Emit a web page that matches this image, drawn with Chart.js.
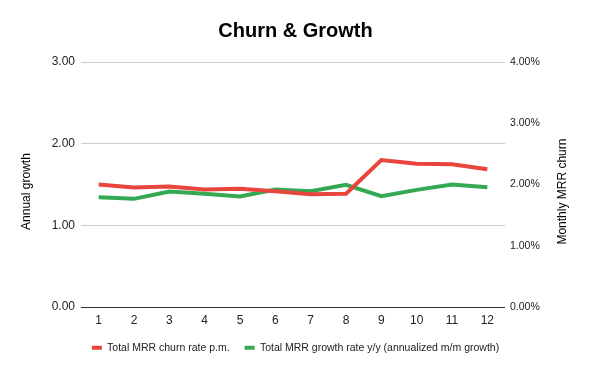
<!DOCTYPE html>
<html>
<head>
<meta charset="utf-8">
<script src="https://cdn.jsdelivr.net/npm/chart.js@4"></script>
<style>
html,body{margin:0;padding:0;background:#fff;}
#c{display:block;}
</style>
</head>
<body>
<canvas id="c" width="591" height="371"></canvas>
<script>
const months = ['1','2','3','4','5','6','7','8','9','10','11','12'];
const churnRate = [2.00, 1.95, 1.97, 1.92, 1.93, 1.89, 1.84, 1.85, 2.40, 2.34, 2.33, 2.25]; // % per month (right axis)
const growthRate = [1.345, 1.325, 1.415, 1.386, 1.354, 1.439, 1.418, 1.496, 1.357, 1.435, 1.50, 1.467]; // annual growth (left axis)
const leftTicks = [0, 1, 2, 3];
const rightTicks = [0, 1, 2, 3, 4];
const leftTitle = 'Annual growth';
const rightTitle = 'Monthly MRR churn';

const FONT = 'Liberation Sans, Arial, sans-serif';
const LEGEND_TRIM = 6;

const axisTitlesPlugin = {
  id: 'axisTitles',
  afterInit(chart) {
    const lg = chart.legend;
    if (lg && !lg._trimmed) {
      const f = lg.fit;
      lg.fit = function () { f.call(this); this.height -= LEGEND_TRIM; };
      lg._trimmed = true;
    }
  },
  afterLayout(chart) {
    if (chart.legend && chart.legend._trimmed) chart.legend.top -= LEGEND_TRIM;
  },
  afterDraw(chart) {
    const ctx = chart.ctx;
    const cy = (chart.chartArea.top + chart.chartArea.bottom) / 2 + 7;
    ctx.save();
    ctx.font = '12px ' + FONT;
    ctx.fillStyle = '#000';
    ctx.textAlign = 'center';
    ctx.textBaseline = 'middle';
    [[27, leftTitle], [563, rightTitle]].forEach(([x, t]) => {
      ctx.save();
      ctx.translate(x, cy);
      ctx.rotate(-Math.PI / 2);
      ctx.fillText(t, 0, 0);
      ctx.restore();
    });
    ctx.restore();
  }
};

new Chart(document.getElementById('c'), {
  type: 'line',
  data: {
    labels: months,
    datasets: [
      {
        label: 'Total MRR churn rate p.m.',
        data: churnRate,
        yAxisID: 'yR',
        borderColor: '#e8453c',
        backgroundColor: '#e8453c',
        borderWidth: 4,
        pointRadius: 0,
        tension: 0
      },
      {
        label: 'Total MRR growth rate y/y (annualized m/m growth)',
        data: growthRate,
        yAxisID: 'yL',
        borderColor: '#34a853',
        backgroundColor: '#34a853',
        borderWidth: 4,
        pointRadius: 0,
        tension: 0
      }
    ]
  },
  plugins: [axisTitlesPlugin],
  options: {
    responsive: false,
    animation: false,
    layout: { padding: { left: 0, right: 0, top: 0, bottom: 8 } },
    plugins: {
      title: {
        display: true,
        text: 'Churn & Growth',
        color: '#000',
        font: { family: FONT, size: 20, weight: 'bold' },
        padding: { top: 19, bottom: 19 }
      },
      legend: {
        position: 'bottom',
        labels: {
          color: '#222',
          font: { family: FONT, size: 10.5 },
          boxWidth: 10,
          boxHeight: 4,
          padding: 15,
          generateLabels: (chart) => {
            const items = Chart.defaults.plugins.legend.labels.generateLabels(chart);
            items.forEach(it => { it.lineWidth = 0; it.strokeStyle = 'rgba(0,0,0,0)'; });
            return items;
          }
        }
      },
      tooltip: { enabled: false }
    },
    scales: {
      x: {
        grid: { display: false, drawTicks: false },
        border: { display: false },
        ticks: { color: '#222', font: { family: FONT, size: 12 }, padding: 6, maxRotation: 0 },
        offset: true
      },
      yL: {
        position: 'left',
        min: 0, max: 3,
        afterBuildTicks: (s) => { s.ticks = leftTicks.map(v => ({ value: v })); },
        afterFit: (s) => { s.width = 81; },
        grid: {
          drawTicks: false,
          color: (ctx) => ctx.tick && ctx.tick.value === 0 ? '#333' : '#cccccc',
          lineWidth: 1
        },
        border: { display: false },
        ticks: {
          color: '#222',
          font: { family: FONT, size: 12 },
          padding: 6,
          callback: (v) => Number(v).toFixed(2)
        }
      },
      yR: {
        position: 'right',
        min: 0, max: 4,
        afterBuildTicks: (s) => { s.ticks = rightTicks.map(v => ({ value: v })); },
        afterFit: (s) => { s.width = 86; },
        grid: { display: false, drawTicks: false },
        border: { display: false },
        ticks: {
          color: '#222',
          font: { family: FONT, size: 10.5 },
          padding: 5,
          callback: (v) => Number(v).toFixed(2) + '%'
        }
      }
    }
  }
});
</script>
</body>
</html>
